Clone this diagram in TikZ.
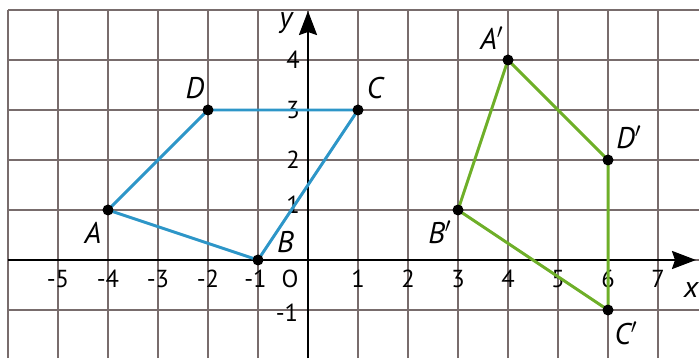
\documentclass[tikz,border=0pt]{standalone}
\usepackage{fontspec}
\setmainfont{PT Sans}
\usetikzlibrary{arrows.meta}
\definecolor{quadblue}{RGB}{45, 150, 200}
\definecolor{quadgreen}{RGB}{110, 175, 40}
\definecolor{gridgray}{RGB}{120, 108, 108}

\begin{document}
\begin{tikzpicture}[
    gridline/.style={gridgray, line width=0.7pt},
    axis/.style={-{Stealth[length=4.8mm, width=3.6mm, inset=0.6mm]}, line width=1.4pt},
    tick/.style={font=\fontsize{14}{16}\selectfont, inner sep=0pt},
    ptlabel/.style={font=\fontsize{17}{19}\selectfont\itshape, inner sep=0pt},
    bluequad/.style={quadblue, line width=1.7pt, line join=round},
    greenquad/.style={quadgreen, line width=1.7pt, line join=round},
    dot/.style={circle, fill=black, inner sep=0pt, minimum size=2.2mm}
]
    \useasboundingbox (-6.16,-1.96) rectangle (7.82,5.2);
    \draw[gridline] (-6,-1.96) grid (7.82,5);

    % axes
    \coordinate (xstart) at (-6,0);
    \coordinate (xend) at (7.76,0);
    \coordinate (ystart) at (0,-1.96);
    \coordinate (yend) at (0,4.98);
    \draw[axis] (xstart) -- (xend);
    \draw[axis] (ystart) -- (yend);
    \node[ptlabel] (ylab) at (-0.44,4.74) {y};
    \node[ptlabel] (xlab) at (7.66,-0.6) {x};

    \foreach \x in {-5,-4,-3,-2,1,2,3,4,5,6,7}
        \node[tick] (tx\x) at (\x,-0.38) {\x};
    \node[tick] (txm1) at (-1.05,-0.38) {-1};
    \foreach \y in {2,3,4}
        \node[tick] (ty\y) at (-0.3,\y) {\y};
    \node[tick] (ty1) at (-0.3,1.1) {1};
    \node[tick] (tym1) at (-0.42,-1.05) {-1};
    \node[tick] (origin) at (-0.36,-0.38) {O};

    % ABCD
    \coordinate (A) at (-4,1);
    \coordinate (B) at (-1,0);
    \coordinate (C) at (1,3);
    \coordinate (D) at (-2,3);
    \draw[bluequad] (A) -- (B) -- (C) -- (D) -- cycle;

    % A'B'C'D'
    \coordinate (A1) at (4,4);
    \coordinate (B1) at (3,1);
    \coordinate (C1) at (6,-1);
    \coordinate (D1) at (6,2);
    \draw[greenquad] (A1) -- (D1) -- (C1) -- (B1) -- cycle;

    \foreach \p in {A,B,C,D,A1,B1,C1,D1}
        \node[dot] at (\p) {};

    \node[ptlabel] (lA) at (-4.3,0.55) {A};
    \node[ptlabel] (lB) at (-0.45,0.36) {B};
    \node[ptlabel] (lC) at (1.34,3.44) {C};
    \node[ptlabel] (lD) at (-2.26,3.44) {D};
    \node[ptlabel] (lA1) at (3.68,4.44) {A$'$};
    \node[ptlabel] (lB1) at (2.64,0.56) {B$'$};
    \node[ptlabel] (lC1) at (6.36,-1.46) {C$'$};
    \node[ptlabel] (lD1) at (6.42,2.46) {D$'$};
\end{tikzpicture}
\end{document}
